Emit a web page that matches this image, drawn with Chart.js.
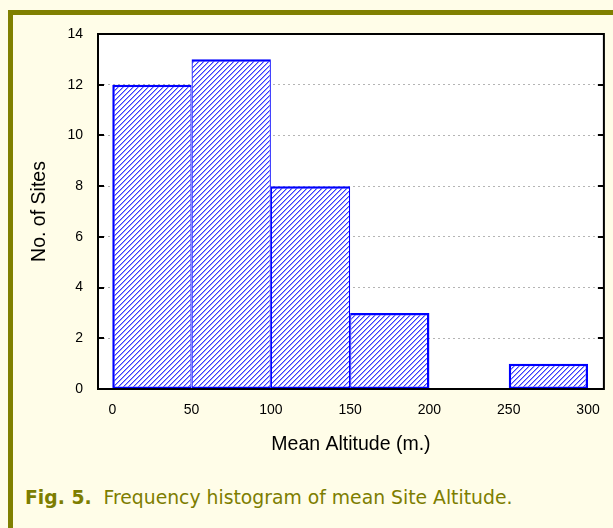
<!DOCTYPE html>
<html>
<head>
<meta charset="utf-8">
<script src="https://cdn.jsdelivr.net/npm/chart.js@4.4.1/dist/chart.umd.min.js"></script>
<style>
  html, body { margin: 0; padding: 0; }
  body { width: 613px; height: 528px; background: #FFFDE8; position: relative; overflow: hidden; }
  #frame { position: absolute; left: 8px; top: 10px; width: 605px; height: 518px;
           border-top: 5px solid #808000; border-left: 5px solid #808000; box-sizing: border-box; }
  #wrap { position: absolute; left: 0; top: 0; width: 613px; height: 470px; }
  #caption { position: absolute; left: 25px; top: 485px; font-family: "DejaVu Sans", Verdana, sans-serif;
             font-size: 18.8px; line-height: 26px; color: #7d7d00; white-space: pre; }
  #caption b { font-weight: bold; }
</style>
</head>
<body>
<div id="frame"></div>
<div id="wrap"><canvas id="c" width="613" height="470"></canvas></div>
<div id="caption"><b>Fig. 5.</b>  Frequency histogram of mean Site Altitude.</div>
<script>
// ---- data ----
const binStarts = [0, 50, 100, 150, 200, 250];
const binEnds   = [50, 100, 150, 200, 250, 300];
const siteCounts = [12, 13, 8, 3, 0, 1];
const xTickValues = [0, 50, 100, 150, 200, 250, 300];
const yTickValues = [0, 2, 4, 6, 8, 10, 12, 14];
const xTitle = 'Mean Altitude (m.)';
const yTitle = 'No. of Sites';

// hatch pattern ("/" diagonal stripes)
function makeHatch() {
  const n = 5;
  const p = document.createElement('canvas');
  p.width = n; p.height = n;
  const g = p.getContext('2d');
  g.fillStyle = '#ffffff'; g.fillRect(0, 0, n, n);
  for (let y = 0; y < n; y++) {
    const x0 = (n - 1 - y + n) % n;
    g.fillStyle = '#3a3aff';
    g.fillRect(x0, y, 1, 1);
    g.fillStyle = '#9c9cff';
    g.fillRect((x0 + 1) % n, y, 1, 1);
  }
  return document.getElementById('c').getContext('2d').createPattern(p, 'repeat');
}
const hatch = makeHatch();

const points = binStarts.map((s, i) => ({ x: (s + binEnds[i]) / 2, y: siteCounts[i] === 0 ? null : siteCounts[i] }));

function hasBar(i) { return i >= 0 && i < siteCounts.length && siteCounts[i] > 0; }

const framePlugin = {
  id: 'framePlugin',
  beforeDraw(chart) {
    const { ctx, chartArea: a } = chart;
    ctx.save();
    ctx.fillStyle = '#ffffff';
    ctx.fillRect(a.left, a.top, a.right - a.left, a.bottom - a.top);
    ctx.restore();
  },
  afterDatasetsDraw(chart) {
    const { ctx, chartArea: a, scales } = chart;
    ctx.save();
    ctx.strokeStyle = '#000'; ctx.lineWidth = 2;
    yTickValues.forEach(v => {
      const y = Math.round(scales.y.getPixelForValue(v));
      ctx.beginPath();
      ctx.moveTo(a.left, y); ctx.lineTo(a.left + 6, y);
      ctx.moveTo(a.right, y); ctx.lineTo(a.right - 6, y);
      ctx.stroke();
    });
    ctx.strokeRect(a.left, a.top, a.right - a.left, a.bottom - a.top);
    ctx.restore();
  }
};

new Chart(document.getElementById('c'), {
  type: 'bar',
  data: {
    datasets: [{
      data: points,
      backgroundColor: hatch,
      borderColor: '#0000ff',
      borderWidth: (ctx) => {
        const i = ctx.dataIndex;
        return { top: 2.5, bottom: 2, left: hasBar(i - 1) ? 1.2 : 2.5, right: hasBar(i + 1) ? 1.2 : 2.5 };
      },
      borderSkipped: false,
      barPercentage: 1,
      categoryPercentage: 1,
      inflateAmount: 0
    }]
  },
  options: {
    responsive: false,
    animation: false,
    events: [],
    layout: { padding: { top: 34, right: 9, left: 0, bottom: 0 } },
    plugins: { legend: { display: false }, tooltip: { enabled: false } },
    scales: {
      x: {
        type: 'linear',
        min: -9, max: 310,
        offset: false,
        afterBuildTicks: (s) => { s.ticks = xTickValues.map(v => ({ value: v })); },
        afterFit: (s) => { s.height = 81; },
        grid: { display: false, drawTicks: false, offset: false },
        border: { display: false },
        ticks: { padding: 13, color: '#000', font: { family: 'Liberation Sans, Arial, sans-serif', size: 14 }, maxRotation: 0, autoSkip: false },
        title: { display: true, text: xTitle, color: '#000', font: { family: 'Liberation Sans, Arial, sans-serif', size: 19.5 }, padding: { top: 0, bottom: 14 } }
      },
      y: {
        min: 0, max: 14,
        afterBuildTicks: (s) => { s.ticks = yTickValues.map(v => ({ value: v })); },
        afterFit: (s) => { s.width = 98; },
        grid: { color: '#b4b4b4', lineWidth: 1, drawTicks: false },
        border: { display: false, dash: [2, 3] },
        ticks: { padding: 15, color: '#000', font: { family: 'Liberation Sans, Arial, sans-serif', size: 14 } },
        title: { display: true, text: yTitle, color: '#000', font: { family: 'Liberation Sans, Arial, sans-serif', size: 19.5 }, padding: { top: 28, bottom: 0 } }
      }
    }
  },
  plugins: [framePlugin]
});
</script>
</body>
</html>
